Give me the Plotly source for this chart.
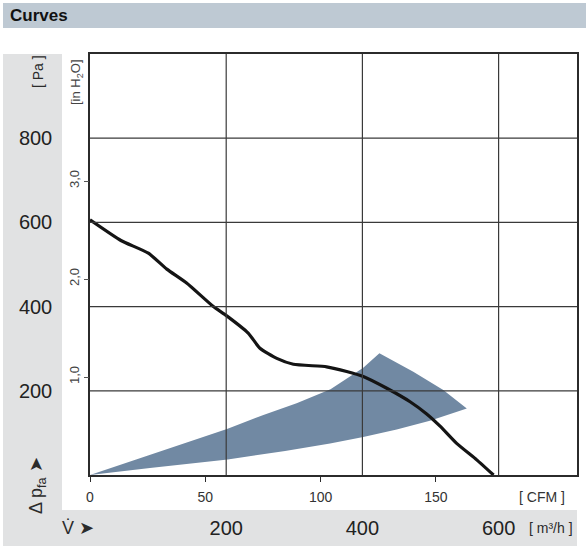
import plotly.graph_objects as go

# fan curve, x in CFM, y in Pa
CURVE_CFM = [0, 13.4, 25.3, 33.3, 41.9, 53.5, 59.3, 68.6, 73.7, 81.0, 88.2, 102.6,
             111.3, 118.5, 128.7, 138.8, 146.0, 151.8, 159.0, 167.7, 175.0]
CURVE_PA = [606, 557, 527, 489, 456, 400, 378, 337, 301, 277, 263, 257,
            246, 234, 206, 174, 145, 116, 75, 36, 0]

# shaded operating zone (upper edge, right edge, lower edge back to origin)
ZONE_CFM = [0, 26.0, 59.7, 75.2, 89.6, 104.3, 111.3, 118.5, 125.5,
            140.2, 153.2, 163.4,
            147.4, 133.0, 118.5, 104.1, 84.6, 59.7, 26.0, 0]
ZONE_PA = [0, 47.5, 110, 142.5, 170.3, 203.6, 229.7, 254.9, 289,
           245.4, 201.9, 158,
           129, 108, 90, 75, 57, 37, 16.6, 0]

CFM_TICKS = [0, 50, 100, 150]
PA_TICKS = [200, 400, 600, 800]
M3H_TICKS = [200, 400, 600]
INH2O_TICKS = [1, 2, 3]
INH2O_LABELS = ["1,0", "2,0", "3,0"]

W, H = 586, 553
L, R, T, B = 90, 9, 54, 78
PW, PH = W - L - R, H - T - B

FONT = "Liberation Sans, Arial, sans-serif"
DARK = "#2b2b2b"
GRID = "#3a3a3a"
PANEL = "#e1e2e3"


def px_x(px):
    return (px - L) / PW


def px_y(py):
    return (H - B - py) / PH


def label(text, x, y, size, color=DARK, angle=0):
    fig.add_annotation(text=text, xref="paper", yref="paper", x=px_x(x), y=px_y(y),
                       xanchor="center", yanchor="middle", textangle=angle,
                       showarrow=False, font=dict(family=FONT, size=size, color=color))


fig = go.Figure()

fig.add_trace(go.Scatter(
    x=ZONE_CFM, y=ZONE_PA, fill="toself", fillcolor="#7189a3",
    mode="lines", line=dict(width=0), hoverinfo="skip", showlegend=False,
))
fig.add_trace(go.Scatter(
    x=CURVE_CFM, y=CURVE_PA, mode="lines",
    line=dict(color="#141414", width=3.2, shape="spline", smoothing=0.5),
    showlegend=False,
))
# empty trace so the secondary axes get drawn
fig.add_trace(go.Scatter(x=[], y=[], xaxis="x2", yaxis="y2", showlegend=False))

# grey panels and title bar
fig.add_shape(type="rect", xref="paper", yref="paper", layer="below",
              x0=px_x(3), x1=px_x(586), y0=px_y(28), y1=px_y(3),
              fillcolor="#bec9d3", line_width=0)
fig.add_shape(type="rect", xref="paper", yref="paper", layer="below",
              x0=px_x(3), x1=px_x(62), y0=px_y(546), y1=px_y(54),
              fillcolor=PANEL, line_width=0)
fig.add_shape(type="rect", xref="paper", yref="paper", layer="below",
              x0=px_x(3), x1=px_x(577), y0=px_y(546), y1=px_y(510),
              fillcolor=PANEL, line_width=0)

# grid drawn above the shaded zone
for v in M3H_TICKS:
    fig.add_shape(type="line", xref="x2", yref="paper", x0=v, x1=v, y0=0, y1=1,
                  line=dict(color=GRID, width=1.2), layer="above")
for v in PA_TICKS:
    fig.add_shape(type="line", xref="paper", yref="y", x0=0, x1=1, y0=v, y1=v,
                  line=dict(color=GRID, width=1.2), layer="above")

fig.add_annotation(text="<b>Curves</b>", xref="paper", yref="paper",
                   x=px_x(8), y=px_y(16), xanchor="left", yanchor="middle",
                   showarrow=False, font=dict(family=FONT, size=17, color="#111"))
label("[ Pa ]", 38, 72, 14, angle=-90)
label("[in H<sub>2</sub>O]", 76, 82, 13, color="#444", angle=-90)
label("Δ p<sub>fa</sub> ➤", 37, 486, 18, angle=-90)
label("V̇ ➤", 78, 528, 18)
label("[ CFM ]", 542, 497, 14, color="#333")
label("[ m³/h ]", 551, 528, 14)

fig.update_layout(
    width=W, height=H,
    margin=dict(l=L, r=R, t=T, b=B, autoexpand=False),
    paper_bgcolor="white", plot_bgcolor="white",
    showlegend=False,
    xaxis=dict(
        range=[0, PW / 2.306], tickvals=CFM_TICKS, ticks="outside", ticklen=5,
        tickcolor=DARK, showgrid=False, zeroline=False, showline=True, mirror=True,
        linecolor=DARK, linewidth=1.5, tickfont=dict(family=FONT, size=14, color="#333"),
        ticklabelstandoff=3, automargin=False,
    ),
    xaxis2=dict(
        overlaying="x", side="bottom", anchor="y", range=[0, PW / 0.681],
        tickvals=M3H_TICKS, ticks="", showgrid=False, zeroline=False, showline=False,
        tickfont=dict(family=FONT, size=20, color="#222"), ticklabelstandoff=39,
        automargin=False,
    ),
    yaxis=dict(
        range=[0, 1000], tickvals=PA_TICKS, ticks="", showgrid=False, zeroline=False,
        showline=True, mirror=True, linecolor=DARK, linewidth=1.5,
        tickfont=dict(family=FONT, size=20, color="#222"), ticklabelstandoff=32,
        automargin=False,
    ),
    yaxis2=dict(
        overlaying="y", side="left", anchor="x", range=[0, PH / 98],
        tickvals=INH2O_TICKS, ticktext=INH2O_LABELS, tickangle=-90,
        ticks="outside", ticklen=5, tickcolor="#555", showgrid=False, zeroline=False,
        showline=False, tickfont=dict(family=FONT, size=13, color="#444"),
        automargin=False,
    ),
)

fig.write_html("out.html", config={"displayModeBar": False},
               post_script="document.body.style.margin = '0';")
